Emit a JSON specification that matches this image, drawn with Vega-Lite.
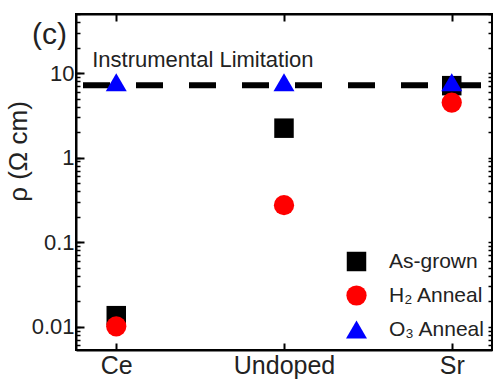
{
  "$schema": "https://vega.github.io/schema/vega-lite/v6.json",
  "width": 416,
  "height": 336,
  "autosize": {"type": "none"},
  "padding": {"left": 76, "top": 14, "right": 1, "bottom": 35},
  "background": "white",
  "config": {
    "view": {"stroke": "black", "strokeWidth": 2},
    "font": "Liberation Sans",
    "axis": {
      "domain": true,
      "domainColor": "black",
      "domainWidth": 2,
      "ticks": true,
      "tickColor": "black",
      "tickWidth": 1.5,
      "labelColor": "#222",
      "labelFont": "Liberation Sans",
      "grid": false
    }
  },
  "title": {
    "text": "(c)",
    "fontSize": 30,
    "fontWeight": "normal",
    "color": "#222",
    "anchor": "start",
    "frame": "group",
    "baseline": "top",
    "dx": -44,
    "dy": 51
  },
  "datasets": {
    "rho": [
      {"sample": "Ce", "series": "As-grown", "rho": 0.0135},
      {"sample": "Undoped", "series": "As-grown", "rho": 2.23},
      {"sample": "Sr", "series": "As-grown", "rho": 7.1},
      {"sample": "Ce", "series": "H₂ Anneal", "rho": 0.0101},
      {"sample": "Undoped", "series": "H₂ Anneal", "rho": 0.274},
      {"sample": "Sr", "series": "H₂ Anneal", "rho": 4.48},
      {"sample": "Ce", "series": "O₃ Anneal", "rho": 7.8},
      {"sample": "Undoped", "series": "O₃ Anneal", "rho": 7.8},
      {"sample": "Sr", "series": "O₃ Anneal", "rho": 7.8}
    ],
    "limit": [
      {"sample": "Ce", "rho": 7.2, "note": "Instrumental Limitation", "noteRho": 14.3}
    ]
  },
  "resolve": {"axis": {"x": "independent", "y": "independent"}},
  "layer": [
    {
      "data": {"name": "limit"},
      "mark": {
        "type": "rule",
        "color": "black",
        "strokeWidth": 6,
        "strokeDash": [27, 26],
        "strokeDashOffset": 42
      },
      "encoding": {
        "y": {
          "field": "rho", "type": "quantitative",
          "scale": {"type": "log", "domain": [0.0053, 50], "nice": false},
          "axis": {
            "orient": "left", "title": null, "labels": false, "domain": false,
            "values": [0.01, 0.1, 1, 10],
            "tickSize": -8, "tickWidth": 2
          }
        }
      }
    },
    {
      "data": {"name": "limit"},
      "mark": {"type": "text", "align": "left", "baseline": "middle", "dx": -24, "fontSize": 22, "color": "#222"},
      "encoding": {
        "x": {
          "field": "sample", "type": "nominal",
          "sort": ["Ce", "Undoped", "Sr"],
          "scale": {"type": "point", "domain": ["Ce", "Undoped", "Sr"], "padding": 0.24},
          "axis": {"orient": "top", "title": null, "labels": false, "tickSize": -7, "tickWidth": 2}
        },
        "y": {
          "field": "noteRho", "type": "quantitative",
          "scale": {"type": "log", "domain": [0.0053, 50], "nice": false},
          "axis": {
            "orient": "right", "title": null, "labels": false,
            "values": [0.006, 0.007, 0.008, 0.009, 0.01, 0.02, 0.03, 0.04, 0.05, 0.06, 0.07, 0.08, 0.09, 0.1, 0.2, 0.3, 0.4, 0.5, 0.6, 0.7, 0.8, 0.9, 1, 2, 3, 4, 5, 6, 7, 8, 9, 10, 20, 30, 40, 50],
            "tickSize": -4
          }
        },
        "text": {"field": "note"}
      }
    },
    {
      "data": {"name": "rho"},
      "mark": {"type": "point", "filled": true, "opacity": 1, "strokeWidth": 0},
      "encoding": {
        "x": {
          "field": "sample", "type": "nominal",
          "sort": ["Ce", "Undoped", "Sr"],
          "scale": {"type": "point", "domain": ["Ce", "Undoped", "Sr"], "padding": 0.24},
          "axis": {"orient": "bottom", "title": null, "labelAngle": 0, "labelFontSize": 25, "labelPadding": 10, "tickSize": -7, "tickWidth": 2, "labelColor": "#222"}
        },
        "y": {
          "field": "rho", "type": "quantitative",
          "scale": {"type": "log", "domain": [0.0053, 50], "nice": false},
          "axis": {
            "orient": "left",
            "title": "ρ (Ω cm)",
            "titleFontSize": 26,
            "titleFontWeight": "normal",
            "titleColor": "#222",
            "titleAngle": -90,
            "titleX": -50,
            "titleY": 137,
            "titleAlign": "center",
            "titleBaseline": "alphabetic",
            "values": [0.006, 0.007, 0.008, 0.009, 0.01, 0.02, 0.03, 0.04, 0.05, 0.06, 0.07, 0.08, 0.09, 0.1, 0.2, 0.3, 0.4, 0.5, 0.6, 0.7, 0.8, 0.9, 1, 2, 3, 4, 5, 6, 7, 8, 9, 10, 20, 30, 40, 50],
            "labelExpr": "datum.value == 10 ? '10' : datum.value == 1 ? '1' : datum.value == 0.1 ? '0.1' : datum.value == 0.01 ? '0.01' : ''",
            "labelFontSize": 22,
            "labelOverlap": false,
            "labelFlush": false,
            "labelPadding": 6,
            "tickSize": -4
          }
        },
        "shape": {
          "field": "series", "type": "nominal",
          "scale": {"domain": ["As-grown", "H₂ Anneal", "O₃ Anneal"], "range": ["square", "circle", "triangle-up"]},
          "legend": {
            "title": null,
            "orient": "none",
            "legendX": 270,
            "legendY": 237,
            "labelFontSize": 21,
            "labelColor": "#222",
            "labelLimit": 300,
            "rowPadding": 12,
            "symbolStrokeWidth": 0,
            "padding": 0,
            "labelOffset": 22
          }
        },
        "color": {
          "field": "series", "type": "nominal",
          "scale": {"domain": ["As-grown", "H₂ Anneal", "O₃ Anneal"], "range": ["#000000", "#ff0000", "#0000ff"]}
        },
        "size": {
          "field": "series", "type": "nominal",
          "scale": {"domain": ["As-grown", "H₂ Anneal", "O₃ Anneal"], "range": [380, 440, 620]}
        }
      }
    }
  ]
}
